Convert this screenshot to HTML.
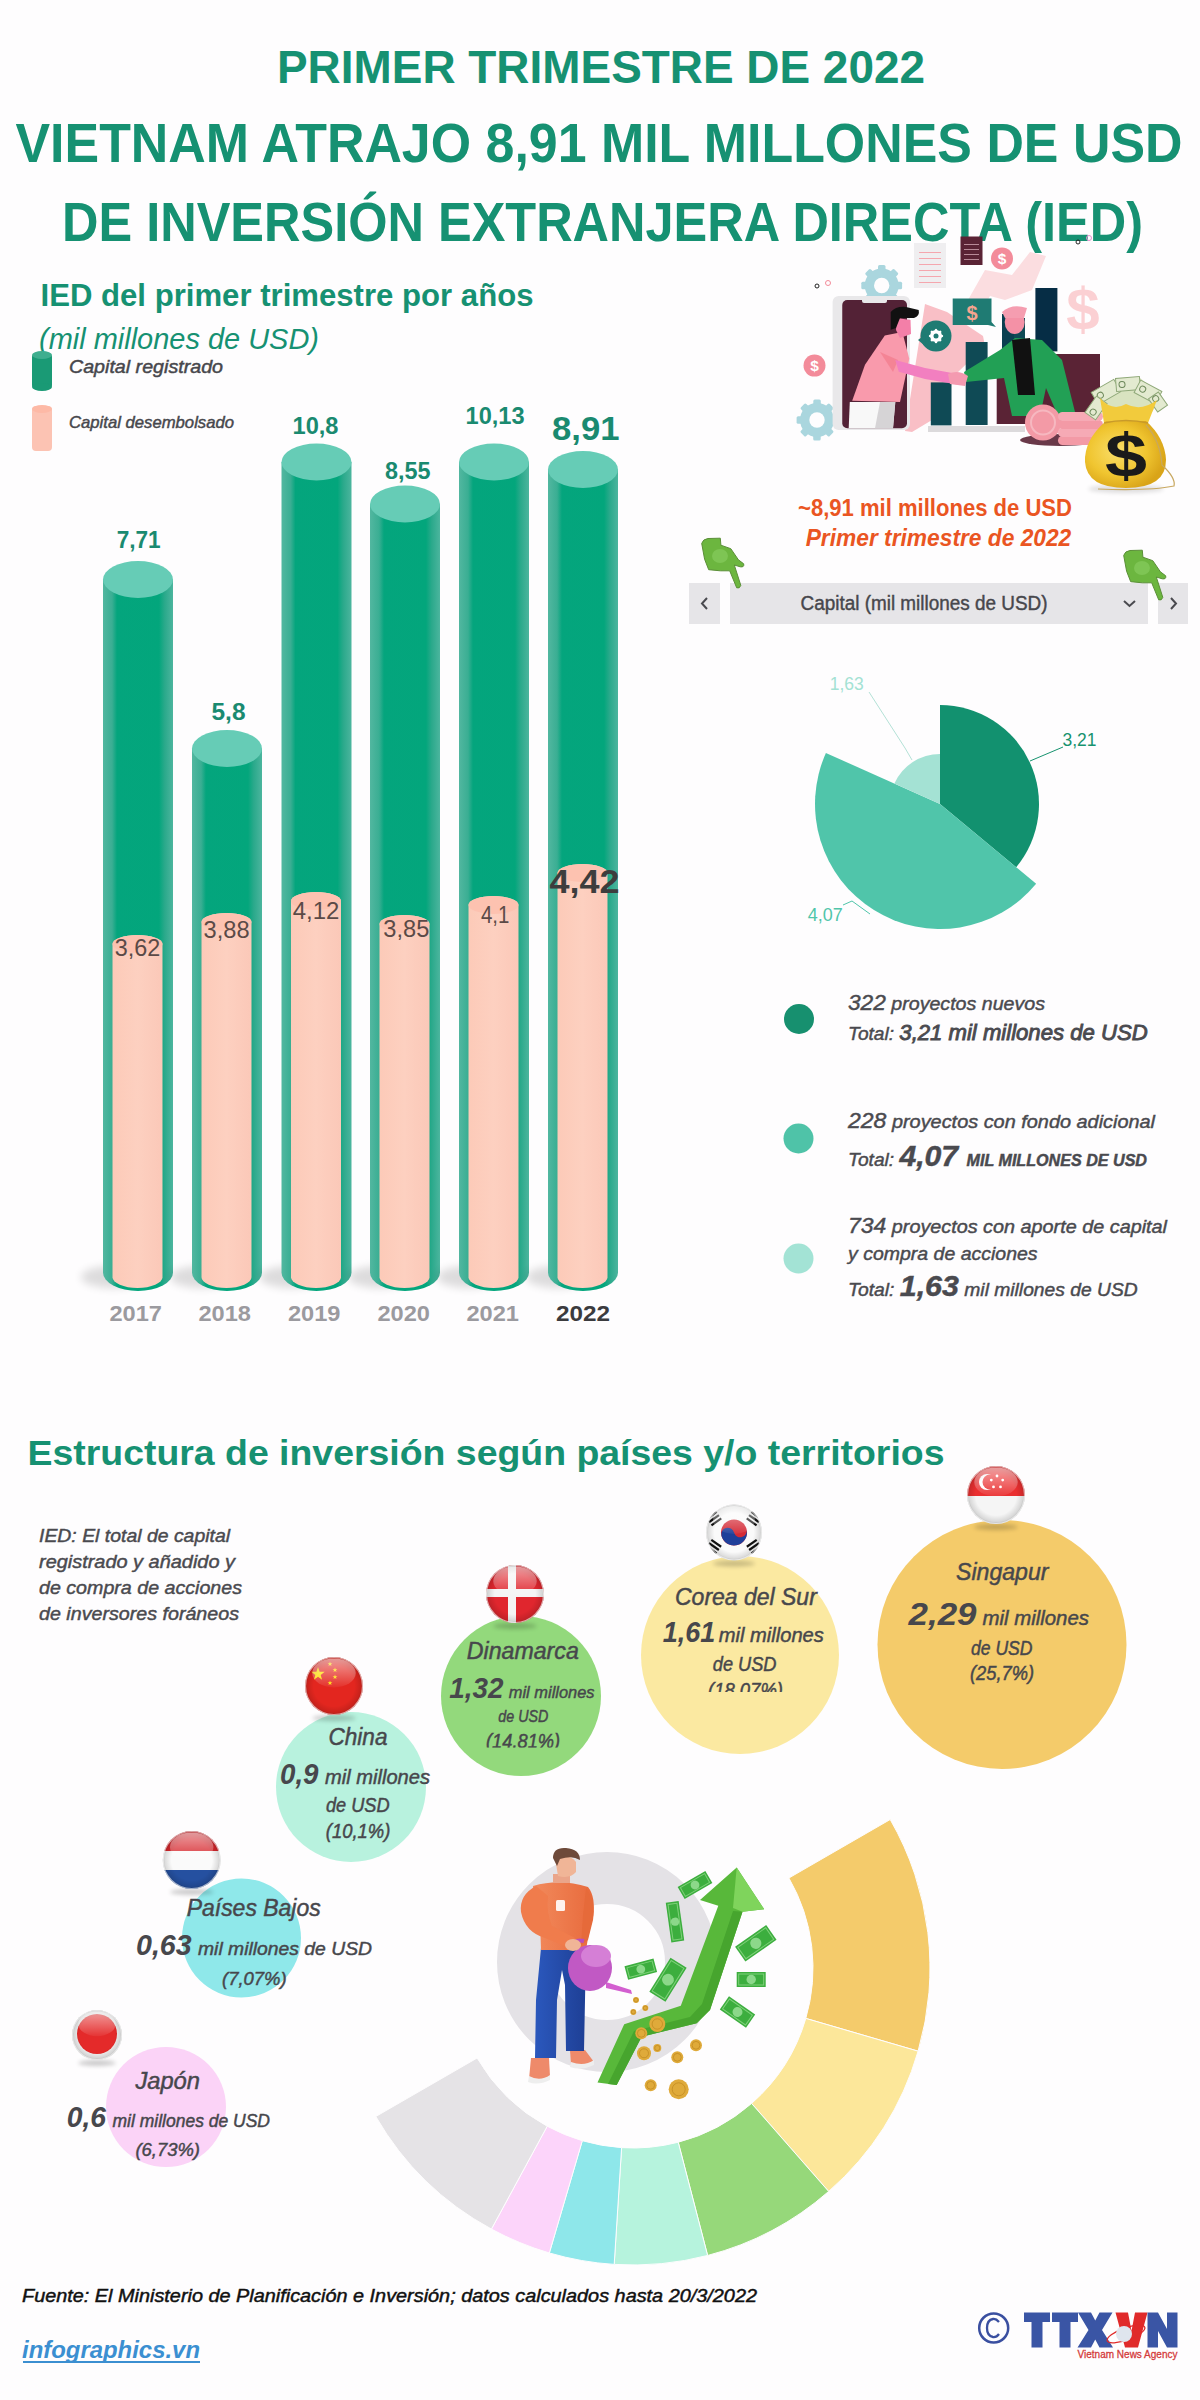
<!DOCTYPE html><html><head><meta charset="utf-8"><style>html,body{margin:0;padding:0;background:#fefdfe;width:1200px;height:2400px;overflow:hidden}svg{display:block;font-family:"Liberation Sans",sans-serif}</style></head><body>
<svg width="1200" height="2400" viewBox="0 0 1200 2400">
<defs>
<linearGradient id="gbody" x1="0" x2="1" y1="0" y2="0">
<stop offset="0" stop-color="#52b7a0"/><stop offset="0.13" stop-color="#3aae93"/><stop offset="0.2" stop-color="#04a57d"/><stop offset="0.8" stop-color="#03a67c"/><stop offset="0.88" stop-color="#2aa98b"/><stop offset="1" stop-color="#4cb59e"/>
</linearGradient>
<linearGradient id="pbody" x1="0" x2="1" y1="0" y2="0">
<stop offset="0" stop-color="#fccab8"/><stop offset="0.5" stop-color="#fdd0c0"/><stop offset="1" stop-color="#fbc8b8"/>
</linearGradient>
<filter id="blur4" x="-100%" y="-200%" width="300%" height="500%"><feGaussianBlur stdDeviation="4"/></filter>
<filter id="blur2" x="-50%" y="-200%" width="200%" height="500%"><feGaussianBlur stdDeviation="2"/></filter>
</defs>
<text x="277.0" y="82.5" font-size="47" fill="#169172" font-weight="bold" font-style="normal" text-anchor="start" textLength="648.0" lengthAdjust="spacingAndGlyphs" >PRIMER TRIMESTRE DE 2022</text>
<text x="15.5" y="162.0" font-size="55" fill="#169172" font-weight="bold" font-style="normal" text-anchor="start" textLength="1167.0" lengthAdjust="spacingAndGlyphs" >VIETNAM ATRAJO 8,91 MIL MILLONES DE USD</text>
<text x="62.0" y="240.5" font-size="55" fill="#169172" font-weight="bold" font-style="normal" text-anchor="start" textLength="1081.0" lengthAdjust="spacingAndGlyphs" >DE INVERSIÓN EXTRANJERA DIRECTA (IED)</text>
<text x="40.5" y="306.0" font-size="31" fill="#169172" font-weight="bold" font-style="normal" text-anchor="start" textLength="493.0" lengthAdjust="spacingAndGlyphs" >IED del primer trimestre por años</text>
<text x="39.0" y="349.0" font-size="29" fill="#169172" font-weight="normal" font-style="italic" text-anchor="start" textLength="280.0" lengthAdjust="spacingAndGlyphs" >(mil millones de USD)</text>
<rect x="32" y="354" width="20" height="34" rx="3" fill="#1a9a75"/><ellipse cx="42" cy="355" rx="10" ry="4" fill="#3fae8f"/><ellipse cx="42" cy="387" rx="10" ry="4" fill="#1a9a75"/>
<rect x="32" y="406" width="20" height="45" rx="4" fill="#fcc3b3"/><ellipse cx="42" cy="409" rx="10" ry="4" fill="#fdb9a6"/>
<text x="69.0" y="373.0" font-size="18" fill="#47474c" font-weight="normal" font-style="italic" text-anchor="start" textLength="154.0" lengthAdjust="spacingAndGlyphs"  stroke="#47474c" stroke-width="0.45">Capital registrado</text>
<text x="69.0" y="428.0" font-size="16.5" fill="#47474c" font-weight="normal" font-style="italic" text-anchor="start" textLength="165.0" lengthAdjust="spacingAndGlyphs"  stroke="#47474c" stroke-width="0.45">Capital desembolsado</text>
<ellipse cx="113" cy="1277" rx="32" ry="11" fill="#000" opacity="0.13" filter="url(#blur4)"/>
<path d="M103,579.5 L103,1272.5 A35.0,18.5 0 0 0 173,1272.5 L173,579.5 Z" fill="url(#gbody)"/>
<ellipse cx="138.0" cy="579.5" rx="35.0" ry="18.5" fill="#66ccb6"/>
<path d="M112.5,944 L112.5,1277.2 A25.0,10.799999999999999 0 0 0 162.5,1277.2 L162.5,944 A25.0,9 0 0 0 112.5,944 Z" fill="url(#pbody)"/>
<ellipse cx="137.5" cy="944" rx="25.0" ry="9" fill="#fdc2b0"/>
<ellipse cx="202" cy="1277" rx="32" ry="11" fill="#000" opacity="0.13" filter="url(#blur4)"/>
<path d="M192,748.5 L192,1272.5 A35.0,18.5 0 0 0 262,1272.5 L262,748.5 Z" fill="url(#gbody)"/>
<ellipse cx="227.0" cy="748.5" rx="35.0" ry="18.5" fill="#66ccb6"/>
<path d="M201.5,922 L201.5,1277.2 A25.0,10.799999999999999 0 0 0 251.5,1277.2 L251.5,922 A25.0,9 0 0 0 201.5,922 Z" fill="url(#pbody)"/>
<ellipse cx="226.5" cy="922" rx="25.0" ry="9" fill="#fdc2b0"/>
<ellipse cx="291.5" cy="1277" rx="32" ry="11" fill="#000" opacity="0.13" filter="url(#blur4)"/>
<path d="M281.5,462.0 L281.5,1272.5 A35.0,18.5 0 0 0 351.5,1272.5 L351.5,462.0 Z" fill="url(#gbody)"/>
<ellipse cx="316.5" cy="462.0" rx="35.0" ry="18.5" fill="#66ccb6"/>
<path d="M291.0,901 L291.0,1277.2 A25.0,10.799999999999999 0 0 0 341.0,1277.2 L341.0,901 A25.0,9 0 0 0 291.0,901 Z" fill="url(#pbody)"/>
<ellipse cx="316.0" cy="901" rx="25.0" ry="9" fill="#fdc2b0"/>
<ellipse cx="380" cy="1277" rx="32" ry="11" fill="#000" opacity="0.13" filter="url(#blur4)"/>
<path d="M370,504.0 L370,1272.5 A35.0,18.5 0 0 0 440,1272.5 L440,504.0 Z" fill="url(#gbody)"/>
<ellipse cx="405.0" cy="504.0" rx="35.0" ry="18.5" fill="#66ccb6"/>
<path d="M379.5,924 L379.5,1277.2 A25.0,10.799999999999999 0 0 0 429.5,1277.2 L429.5,924 A25.0,9 0 0 0 379.5,924 Z" fill="url(#pbody)"/>
<ellipse cx="404.5" cy="924" rx="25.0" ry="9" fill="#fdc2b0"/>
<ellipse cx="469" cy="1277" rx="32" ry="11" fill="#000" opacity="0.13" filter="url(#blur4)"/>
<path d="M459,462.0 L459,1272.5 A35.0,18.5 0 0 0 529,1272.5 L529,462.0 Z" fill="url(#gbody)"/>
<ellipse cx="494.0" cy="462.0" rx="35.0" ry="18.5" fill="#66ccb6"/>
<path d="M468.5,905 L468.5,1277.2 A25.0,10.799999999999999 0 0 0 518.5,1277.2 L518.5,905 A25.0,9 0 0 0 468.5,905 Z" fill="url(#pbody)"/>
<ellipse cx="493.5" cy="905" rx="25.0" ry="9" fill="#fdc2b0"/>
<ellipse cx="558" cy="1277" rx="32" ry="11" fill="#000" opacity="0.13" filter="url(#blur4)"/>
<path d="M548,469.5 L548,1272.5 A35.0,18.5 0 0 0 618,1272.5 L618,469.5 Z" fill="url(#gbody)"/>
<ellipse cx="583.0" cy="469.5" rx="35.0" ry="18.5" fill="#66ccb6"/>
<path d="M557.5,873 L557.5,1277.2 A25.0,10.799999999999999 0 0 0 607.5,1277.2 L607.5,873 A25.0,9 0 0 0 557.5,873 Z" fill="url(#pbody)"/>
<ellipse cx="582.5" cy="873" rx="25.0" ry="9" fill="#fdc2b0"/>
<text x="116.7" y="547.5" font-size="23" fill="#1a8a70" font-weight="bold" font-style="normal" text-anchor="start" textLength="44.0" lengthAdjust="spacingAndGlyphs" >7,71</text>
<text x="211.5" y="720.0" font-size="23" fill="#1a8a70" font-weight="bold" font-style="normal" text-anchor="start" textLength="34.0" lengthAdjust="spacingAndGlyphs" >5,8</text>
<text x="292.5" y="433.5" font-size="23" fill="#1a8a70" font-weight="bold" font-style="normal" text-anchor="start" textLength="46.0" lengthAdjust="spacingAndGlyphs" >10,8</text>
<text x="385.0" y="479.0" font-size="23" fill="#1a8a70" font-weight="bold" font-style="normal" text-anchor="start" textLength="45.5" lengthAdjust="spacingAndGlyphs" >8,55</text>
<text x="465.6" y="423.6" font-size="23" fill="#1a8a70" font-weight="bold" font-style="normal" text-anchor="start" textLength="59.0" lengthAdjust="spacingAndGlyphs" >10,13</text>
<text x="552.0" y="440.4" font-size="34" fill="#1a8a70" font-weight="bold" font-style="normal" text-anchor="start" textLength="67.5" lengthAdjust="spacingAndGlyphs" >8,91</text>
<text x="114.7" y="956.4" font-size="23" fill="#5b4a47" font-weight="normal" font-style="normal" text-anchor="start" textLength="45.5" lengthAdjust="spacingAndGlyphs" >3,62</text>
<text x="203.6" y="937.6" font-size="23" fill="#5b4a47" font-weight="normal" font-style="normal" text-anchor="start" textLength="46.0" lengthAdjust="spacingAndGlyphs" >3,88</text>
<text x="292.8" y="918.5" font-size="23" fill="#5b4a47" font-weight="normal" font-style="normal" text-anchor="start" textLength="46.6" lengthAdjust="spacingAndGlyphs" >4,12</text>
<text x="383.3" y="936.8" font-size="23" fill="#5b4a47" font-weight="normal" font-style="normal" text-anchor="start" textLength="46.0" lengthAdjust="spacingAndGlyphs" >3,85</text>
<text x="480.9" y="922.8" font-size="23" fill="#5b4a47" font-weight="normal" font-style="normal" text-anchor="start" textLength="28.4" lengthAdjust="spacingAndGlyphs" >4,1</text>
<text x="549.5" y="893.2" font-size="34" fill="#3d3d3d" font-weight="bold" font-style="normal" text-anchor="start" textLength="70.0" lengthAdjust="spacingAndGlyphs" >4,42</text>
<text x="109.5" y="1320.5" font-size="22" fill="#9b9a9f" font-weight="bold" font-style="normal" text-anchor="start" textLength="52.5" lengthAdjust="spacingAndGlyphs" >2017</text>
<text x="198.5" y="1320.5" font-size="22" fill="#9b9a9f" font-weight="bold" font-style="normal" text-anchor="start" textLength="52.5" lengthAdjust="spacingAndGlyphs" >2018</text>
<text x="288.0" y="1320.5" font-size="22" fill="#9b9a9f" font-weight="bold" font-style="normal" text-anchor="start" textLength="52.5" lengthAdjust="spacingAndGlyphs" >2019</text>
<text x="377.5" y="1320.5" font-size="22" fill="#9b9a9f" font-weight="bold" font-style="normal" text-anchor="start" textLength="52.5" lengthAdjust="spacingAndGlyphs" >2020</text>
<text x="466.5" y="1320.5" font-size="22" fill="#9b9a9f" font-weight="bold" font-style="normal" text-anchor="start" textLength="52.5" lengthAdjust="spacingAndGlyphs" >2021</text>
<text x="556.0" y="1320.5" font-size="22" fill="#3b3b3e" font-weight="bold" font-style="normal" text-anchor="start" textLength="54.0" lengthAdjust="spacingAndGlyphs" >2022</text>
<text x="798.0" y="516.0" font-size="24" fill="#ea5522" font-weight="bold" font-style="normal" text-anchor="start" textLength="274.0" lengthAdjust="spacingAndGlyphs" >~8,91 mil millones de USD</text>
<text x="805.7" y="545.5" font-size="24" fill="#ea5522" font-weight="bold" font-style="italic" text-anchor="start" textLength="265.6" lengthAdjust="spacingAndGlyphs" >Primer trimestre de 2022</text>
<rect x="689" y="583" width="31" height="41" fill="#e6e5e8"/>
<rect x="730" y="583" width="418" height="41" fill="#e6e5e8"/>
<rect x="1158" y="583" width="30" height="41" fill="#e6e5e8"/>
<path d="M707,598 L702,603.5 L707,609" fill="none" stroke="#4a4a4f" stroke-width="2"/>
<path d="M1171,598 L1176,603.5 L1171,609" fill="none" stroke="#4a4a4f" stroke-width="2"/>
<path d="M1124,601 L1129.5,606 L1135,601" fill="none" stroke="#4a4a4f" stroke-width="2"/>
<text x="800.5" y="610.0" font-size="19.5" fill="#47474c" font-weight="normal" font-style="normal" text-anchor="start" textLength="247.0" lengthAdjust="spacingAndGlyphs"  stroke="#47474c" stroke-width="0.4">Capital (mil millones de USD)</text>
<path d="M940,804 L940.00,705.00 A99,99 0 0 1 1016.17,867.24 Z" fill="#12916f" />
<path d="M940,804 L1036.17,883.85 A125,125 0 0 1 825.90,752.96 Z" fill="#50c5aa" />
<path d="M940,804 L894.36,783.58 A50,50 0 0 1 940.00,754.00 Z" fill="#a4e2d4" />
<path d="M869,692 L905,748 L912,760" fill="none" stroke="#9fd9cc" stroke-width="0.8"/>
<path d="M1030,761 L1063,747" fill="none" stroke="#17936f" stroke-width="1"/>
<path d="M843,905 L852,901 L870,914" fill="none" stroke="#50c5aa" stroke-width="1"/>
<text x="829.7" y="689.6" font-size="17.5" fill="#a4e2d4" font-weight="normal" font-style="normal" text-anchor="start" textLength="34.0" lengthAdjust="spacingAndGlyphs" >1,63</text>
<text x="1062.5" y="746.0" font-size="17.5" fill="#17936f" font-weight="normal" font-style="normal" text-anchor="start" textLength="34.0" lengthAdjust="spacingAndGlyphs" >3,21</text>
<text x="807.7" y="920.6" font-size="17.5" fill="#50c5aa" font-weight="normal" font-style="normal" text-anchor="start" textLength="35.0" lengthAdjust="spacingAndGlyphs" >4,07</text>
<circle cx="799" cy="1019" r="15" fill="#17906f"/>
<circle cx="798.5" cy="1138.5" r="15" fill="#4fc3a8"/>
<circle cx="798.5" cy="1258.5" r="15" fill="#a3e3d5"/>
<text x="848" y="1010.3" font-style="italic" fill="#4a4a4f" stroke="#4a4a4f" stroke-width="0.45" textLength="197" lengthAdjust="spacingAndGlyphs"><tspan font-size="22">322</tspan><tspan font-size="19"> proyectos nuevos</tspan></text>
<text x="848" y="1040.4" font-style="italic" fill="#4a4a4f" stroke="#4a4a4f" stroke-width="0.45" textLength="299.6" lengthAdjust="spacingAndGlyphs"><tspan font-size="19">Total: </tspan><tspan font-size="22" stroke-width="0.9">3,21 mil millones de USD</tspan></text>
<text x="848" y="1127.7" font-style="italic" fill="#4a4a4f" stroke="#4a4a4f" stroke-width="0.45" textLength="307" lengthAdjust="spacingAndGlyphs"><tspan font-size="22">228</tspan><tspan font-size="19"> proyectos con fondo adicional</tspan></text>
<text x="848" y="1166.2" font-style="italic" fill="#4a4a4f" stroke="#4a4a4f" stroke-width="0.45" textLength="299" lengthAdjust="spacingAndGlyphs"><tspan font-size="19">Total: </tspan><tspan font-size="30" font-weight="bold">4,07 </tspan><tspan font-size="16" font-weight="bold">MIL MILLONES DE USD</tspan></text>
<text x="848" y="1233.3" font-style="italic" fill="#4a4a4f" stroke="#4a4a4f" stroke-width="0.45" textLength="319" lengthAdjust="spacingAndGlyphs"><tspan font-size="22">734</tspan><tspan font-size="19"> proyectos con aporte de capital</tspan></text>
<text x="848.0" y="1259.7" font-size="19" fill="#4a4a4f" font-weight="normal" font-style="italic" text-anchor="start" textLength="189.6" lengthAdjust="spacingAndGlyphs"  stroke="#4a4a4f" stroke-width="0.45">y compra de acciones</text>
<text x="848" y="1295.6" font-style="italic" fill="#4a4a4f" stroke="#4a4a4f" stroke-width="0.45" textLength="289.7" lengthAdjust="spacingAndGlyphs"><tspan font-size="19">Total: </tspan><tspan font-size="30" font-weight="bold">1,63</tspan><tspan font-size="19"> mil millones de USD</tspan></text>
<text x="27.5" y="1465.0" font-size="35" fill="#169172" font-weight="bold" font-style="normal" text-anchor="start" textLength="917.0" lengthAdjust="spacingAndGlyphs" >Estructura de inversión según países y/o territorios</text>
<text x="39.0" y="1541.5" font-size="19" fill="#4a4a4f" font-weight="normal" font-style="italic" text-anchor="start" textLength="191.0" lengthAdjust="spacingAndGlyphs"  stroke="#4a4a4f" stroke-width="0.45">IED: El total de capital</text>
<text x="39.0" y="1567.5" font-size="19" fill="#4a4a4f" font-weight="normal" font-style="italic" text-anchor="start" textLength="196.0" lengthAdjust="spacingAndGlyphs"  stroke="#4a4a4f" stroke-width="0.45">registrado y añadido y</text>
<text x="39.0" y="1594.0" font-size="19" fill="#4a4a4f" font-weight="normal" font-style="italic" text-anchor="start" textLength="203.0" lengthAdjust="spacingAndGlyphs"  stroke="#4a4a4f" stroke-width="0.45">de compra de acciones</text>
<text x="39.0" y="1620.0" font-size="19" fill="#4a4a4f" font-weight="normal" font-style="italic" text-anchor="start" textLength="200.0" lengthAdjust="spacingAndGlyphs"  stroke="#4a4a4f" stroke-width="0.45">de inversores foráneos</text>
<path d="M890.21,1819.50 A297,297 0 0 1 918.12,2051.16 L805.80,2018.40 A180,180 0 0 0 788.88,1878.00 Z" fill="#f4cb6b" stroke="#fefdfe" stroke-width="1"/>
<path d="M918.12,2051.16 A297,297 0 0 1 828.67,2191.43 L751.59,2103.41 A180,180 0 0 0 805.80,2018.40 Z" fill="#fce79a" stroke="#fefdfe" stroke-width="1"/>
<path d="M828.67,2191.43 A297,297 0 0 1 707.61,2255.47 L678.22,2142.23 A180,180 0 0 0 751.59,2103.41 Z" fill="#96d87a" stroke="#fefdfe" stroke-width="1"/>
<path d="M707.61,2255.47 A297,297 0 0 1 614.20,2264.40 L621.60,2147.64 A180,180 0 0 0 678.22,2142.23 Z" fill="#b6f3dd" stroke="#fefdfe" stroke-width="1"/>
<path d="M614.20,2264.40 A297,297 0 0 1 549.34,2252.97 L582.30,2140.71 A180,180 0 0 0 621.60,2147.64 Z" fill="#8ee7ea" stroke="#fefdfe" stroke-width="1"/>
<path d="M549.34,2252.97 A297,297 0 0 1 491.42,2229.08 L547.19,2126.23 A180,180 0 0 0 582.30,2140.71 Z" fill="#fcd4fa" stroke="#fefdfe" stroke-width="1"/>
<path d="M491.42,2229.08 A297,297 0 0 1 375.79,2116.50 L477.12,2058.00 A180,180 0 0 0 547.19,2126.23 Z" fill="#e5e3e6" stroke="#fefdfe" stroke-width="1"/>
<circle cx="607" cy="1962" r="84" fill="none" stroke="#e4e2e6" stroke-width="52"/>
<circle cx="521" cy="1696" r="80" fill="#93d97c"/>
<circle cx="351" cy="1787" r="75" fill="#b8f2de"/>
<circle cx="241.5" cy="1938" r="59.5" fill="#8fe8ea"/>
<circle cx="166" cy="2107" r="60" fill="#fbd3f7"/>
<circle cx="740" cy="1655" r="99" fill="#fbe9a1"/>
<circle cx="1002" cy="1644.5" r="124.5" fill="#f4cb6a"/>
<clipPath id="clipDK"><rect x="430" y="1540" width="200" height="207.5"/></clipPath>
<clipPath id="clipKR"><rect x="620" y="1540" width="240" height="152"/></clipPath>
<text x="466.8" y="1659.0" font-size="23" fill="#47474c" font-weight="normal" font-style="italic" text-anchor="start" textLength="112.0" lengthAdjust="spacingAndGlyphs"  stroke="#47474c" stroke-width="0.45">Dinamarca</text>
<text x="449.3" y="1697.5" font-size="29" fill="#47474c" font-weight="bold" font-style="italic" text-anchor="start" textLength="54.2" lengthAdjust="spacingAndGlyphs" >1,32</text>
<text x="508.8" y="1697.5" font-size="17" fill="#47474c" font-weight="normal" font-style="italic" text-anchor="start" textLength="85.7" lengthAdjust="spacingAndGlyphs"  stroke="#47474c" stroke-width="0.45">mil millones</text>
<text x="498.3" y="1722.0" font-size="17" fill="#47474c" font-weight="normal" font-style="italic" text-anchor="start" textLength="50.0" lengthAdjust="spacingAndGlyphs"  stroke="#47474c" stroke-width="0.45">de USD</text>
<text x="486.0" y="1747.5" font-size="19.5" fill="#47474c" font-weight="normal" font-style="italic" text-anchor="start" textLength="74.2" lengthAdjust="spacingAndGlyphs" clip-path="url(#clipDK)" stroke="#47474c" stroke-width="0.45">(14.81%)</text>
<text x="328.5" y="1745.0" font-size="23" fill="#47474c" font-weight="normal" font-style="italic" text-anchor="start" textLength="59.0" lengthAdjust="spacingAndGlyphs"  stroke="#47474c" stroke-width="0.45">China</text>
<text x="280.0" y="1784.0" font-size="29" fill="#47474c" font-weight="bold" font-style="italic" text-anchor="start" textLength="38.5" lengthAdjust="spacingAndGlyphs" >0,9</text>
<text x="325.0" y="1784.0" font-size="19.5" fill="#47474c" font-weight="normal" font-style="italic" text-anchor="start" textLength="105.0" lengthAdjust="spacingAndGlyphs"  stroke="#47474c" stroke-width="0.45">mil millones</text>
<text x="326.0" y="1812.0" font-size="19.5" fill="#47474c" font-weight="normal" font-style="italic" text-anchor="start" textLength="63.6" lengthAdjust="spacingAndGlyphs"  stroke="#47474c" stroke-width="0.45">de USD</text>
<text x="325.8" y="1838.0" font-size="19.5" fill="#47474c" font-weight="normal" font-style="italic" text-anchor="start" textLength="64.6" lengthAdjust="spacingAndGlyphs"  stroke="#47474c" stroke-width="0.45">(10,1%)</text>
<text x="186.7" y="1916.0" font-size="23" fill="#47474c" font-weight="normal" font-style="italic" text-anchor="start" textLength="134.0" lengthAdjust="spacingAndGlyphs"  stroke="#47474c" stroke-width="0.45">Países Bajos</text>
<text x="136.0" y="1955.0" font-size="29" fill="#47474c" font-weight="bold" font-style="italic" text-anchor="start" textLength="55.7" lengthAdjust="spacingAndGlyphs" >0,63</text>
<text x="198.0" y="1955.0" font-size="19" fill="#47474c" font-weight="normal" font-style="italic" text-anchor="start" textLength="174.0" lengthAdjust="spacingAndGlyphs"  stroke="#47474c" stroke-width="0.45">mil millones de USD</text>
<text x="222.0" y="1985.0" font-size="19" fill="#47474c" font-weight="normal" font-style="italic" text-anchor="start" textLength="64.7" lengthAdjust="spacingAndGlyphs"  stroke="#47474c" stroke-width="0.45">(7,07%)</text>
<text x="135.4" y="2089.0" font-size="23" fill="#47474c" font-weight="normal" font-style="italic" text-anchor="start" textLength="64.6" lengthAdjust="spacingAndGlyphs"  stroke="#47474c" stroke-width="0.45">Japón</text>
<text x="66.7" y="2126.7" font-size="29" fill="#47474c" font-weight="bold" font-style="italic" text-anchor="start" textLength="39.3" lengthAdjust="spacingAndGlyphs" >0,6</text>
<text x="112.5" y="2126.5" font-size="17.5" fill="#47474c" font-weight="normal" font-style="italic" text-anchor="start" textLength="157.5" lengthAdjust="spacingAndGlyphs"  stroke="#47474c" stroke-width="0.45">mil millones de USD</text>
<text x="135.4" y="2155.8" font-size="19" fill="#47474c" font-weight="normal" font-style="italic" text-anchor="start" textLength="64.6" lengthAdjust="spacingAndGlyphs"  stroke="#47474c" stroke-width="0.45">(6,73%)</text>
<text x="675.0" y="1604.8" font-size="23" fill="#47474c" font-weight="normal" font-style="italic" text-anchor="start" textLength="141.8" lengthAdjust="spacingAndGlyphs"  stroke="#47474c" stroke-width="0.45">Corea del Sur</text>
<text x="662.8" y="1642.2" font-size="29" fill="#47474c" font-weight="bold" font-style="italic" text-anchor="start" textLength="52.5" lengthAdjust="spacingAndGlyphs" >1,61</text>
<text x="718.8" y="1642.2" font-size="19.5" fill="#47474c" font-weight="normal" font-style="italic" text-anchor="start" textLength="105.0" lengthAdjust="spacingAndGlyphs"  stroke="#47474c" stroke-width="0.45">mil millones</text>
<text x="712.8" y="1671.0" font-size="19.5" fill="#47474c" font-weight="normal" font-style="italic" text-anchor="start" textLength="63.7" lengthAdjust="spacingAndGlyphs"  stroke="#47474c" stroke-width="0.45">de USD</text>
<text x="708.0" y="1697.0" font-size="19.5" fill="#47474c" font-weight="normal" font-style="italic" text-anchor="start" textLength="75.0" lengthAdjust="spacingAndGlyphs" clip-path="url(#clipKR)" stroke="#47474c" stroke-width="0.45">(18,07%)</text>
<text x="956.0" y="1580.0" font-size="23" fill="#47474c" font-weight="normal" font-style="italic" text-anchor="start" textLength="92.5" lengthAdjust="spacingAndGlyphs"  stroke="#47474c" stroke-width="0.45">Singapur</text>
<text x="908.5" y="1625.0" font-size="32" fill="#47474c" font-weight="bold" font-style="italic" text-anchor="start" textLength="68.0" lengthAdjust="spacingAndGlyphs" >2,29</text>
<text x="982.5" y="1625.0" font-size="19.5" fill="#47474c" font-weight="normal" font-style="italic" text-anchor="start" textLength="106.5" lengthAdjust="spacingAndGlyphs"  stroke="#47474c" stroke-width="0.45">mil millones</text>
<text x="971.0" y="1655.0" font-size="19.5" fill="#47474c" font-weight="normal" font-style="italic" text-anchor="start" textLength="61.5" lengthAdjust="spacingAndGlyphs"  stroke="#47474c" stroke-width="0.45">de USD</text>
<text x="970.0" y="1680.0" font-size="19.5" fill="#47474c" font-weight="normal" font-style="italic" text-anchor="start" textLength="64.0" lengthAdjust="spacingAndGlyphs"  stroke="#47474c" stroke-width="0.45">(25,7%)</text>
<text x="22.0" y="2302.0" font-size="18" fill="#111" font-weight="normal" font-style="italic" text-anchor="start" textLength="735.0" lengthAdjust="spacingAndGlyphs"  stroke="#111" stroke-width="0.45">Fuente: El Ministerio de Planificación e Inversión; datos calculados hasta 20/3/2022</text>
<text x="22.0" y="2358.0" font-size="24" fill="#3b8fd1" font-weight="bold" font-style="italic" text-anchor="start" textLength="178.0" lengthAdjust="spacingAndGlyphs" >infographics.vn</text>
<rect x="23" y="2361" width="177" height="2" fill="#3b8fd1"/>
<defs>
<radialGradient id="gl" cx="0.5" cy="0.5" r="0.5">
<stop offset="0.7" stop-color="#000" stop-opacity="0"/><stop offset="0.92" stop-color="#000" stop-opacity="0.12"/><stop offset="1" stop-color="#000" stop-opacity="0.25"/>
</radialGradient>
<linearGradient id="hl" x1="0" x2="0" y1="0" y2="1">
<stop offset="0" stop-color="#fff" stop-opacity="0.55"/><stop offset="1" stop-color="#fff" stop-opacity="0.05"/>
</linearGradient>
</defs>
<ellipse cx="515" cy="1626" rx="21.75" ry="3" fill="#000" opacity="0.2" filter="url(#blur2)"/>
<clipPath id="fcdk"><circle cx="515" cy="1594" r="29"/></clipPath>
<g clip-path="url(#fcdk)"><rect x="486" y="1565" width="58" height="58" fill="#e0262e"/><rect x="486" y="1589" width="58" height="8" fill="#f4f4f4"/><rect x="508" y="1565" width="8" height="58" fill="#f4f4f4"/></g>
<circle cx="515" cy="1594" r="29" fill="url(#gl)"/>
<ellipse cx="515" cy="1580.95" rx="21.75" ry="14.5" fill="url(#hl)"/>
<circle cx="515" cy="1594" r="28.5" fill="none" stroke="#fff" stroke-opacity="0.6" stroke-width="1.2"/>
<ellipse cx="334" cy="1718" rx="21.75" ry="3" fill="#000" opacity="0.2" filter="url(#blur2)"/>
<clipPath id="fccn"><circle cx="334" cy="1686" r="29"/></clipPath>
<g clip-path="url(#fccn)"><rect x="305" y="1657" width="58" height="58" fill="#e3261f"/><polygon points="318.0,1667.0 319.6,1671.7 324.7,1671.8 320.7,1674.9 322.1,1679.7 318.0,1676.8 313.9,1679.7 315.3,1674.9 311.3,1671.8 316.4,1671.7" fill="#ffde00"/><polygon points="330.0,1661.5 330.6,1663.2 332.4,1663.2 331.0,1664.3 331.5,1666.0 330.0,1665.0 328.5,1666.0 329.0,1664.3 327.6,1663.2 329.4,1663.2" fill="#ffde00"/><polygon points="335.0,1667.5 335.6,1669.2 337.4,1669.2 336.0,1670.3 336.5,1672.0 335.0,1671.0 333.5,1672.0 334.0,1670.3 332.6,1669.2 334.4,1669.2" fill="#ffde00"/><polygon points="335.0,1674.5 335.6,1676.2 337.4,1676.2 336.0,1677.3 336.5,1679.0 335.0,1678.0 333.5,1679.0 334.0,1677.3 332.6,1676.2 334.4,1676.2" fill="#ffde00"/><polygon points="330.0,1680.5 330.6,1682.2 332.4,1682.2 331.0,1683.3 331.5,1685.0 330.0,1684.0 328.5,1685.0 329.0,1683.3 327.6,1682.2 329.4,1682.2" fill="#ffde00"/></g>
<circle cx="334" cy="1686" r="29" fill="url(#gl)"/>
<ellipse cx="334" cy="1672.95" rx="21.75" ry="14.5" fill="url(#hl)"/>
<circle cx="334" cy="1686" r="28.5" fill="none" stroke="#fff" stroke-opacity="0.6" stroke-width="1.2"/>
<ellipse cx="191.7" cy="1892" rx="21.75" ry="3" fill="#000" opacity="0.2" filter="url(#blur2)"/>
<clipPath id="fcnl"><circle cx="191.7" cy="1860" r="29"/></clipPath>
<g clip-path="url(#fcnl)"><rect x="162.7" y="1831" width="58" height="20" fill="#d6262c"/><rect x="162.7" y="1851" width="58" height="19" fill="#fafafa"/><rect x="162.7" y="1870" width="58" height="20" fill="#2550a0"/></g>
<circle cx="191.7" cy="1860" r="29" fill="url(#gl)"/>
<ellipse cx="191.7" cy="1846.95" rx="21.75" ry="14.5" fill="url(#hl)"/>
<circle cx="191.7" cy="1860" r="28.5" fill="none" stroke="#fff" stroke-opacity="0.6" stroke-width="1.2"/>
<ellipse cx="97" cy="2063" rx="18.75" ry="3" fill="#000" opacity="0.2" filter="url(#blur2)"/>
<clipPath id="fcjp"><circle cx="97" cy="2035" r="25"/></clipPath>
<g clip-path="url(#fcjp)"><rect x="72" y="2010" width="50" height="50" fill="#f2f2f2"/><circle cx="97" cy="2034" r="20" fill="#e42a2a"/></g>
<circle cx="97" cy="2035" r="25" fill="url(#gl)"/>
<ellipse cx="97" cy="2023.75" rx="18.75" ry="12.5" fill="url(#hl)"/>
<circle cx="97" cy="2035" r="24.5" fill="none" stroke="#fff" stroke-opacity="0.6" stroke-width="1.2"/>
<ellipse cx="734" cy="1563.5" rx="21.0" ry="3" fill="#000" opacity="0.2" filter="url(#blur2)"/>
<clipPath id="fckr"><circle cx="734" cy="1532.5" r="28"/></clipPath>
<g clip-path="url(#fckr)"><rect x="706" y="1504.5" width="56" height="56" fill="#fafafa"/><circle cx="734" cy="1532.5" r="13" fill="#d42a36"/><path d="M721,1532.5 A13,13 0 0 1 747,1532.5 A6.5,6.5 0 0 1 734,1532.5 A6.5,6.5 0 0 0 721,1532.5 Z" fill="#1f3f9a" transform="rotate(165 734 1532.5)"/><g transform="rotate(-35 714 1518.5)"><rect x="708" y="1513.5" width="12" height="2.2" fill="#111"/><rect x="708" y="1517.5" width="12" height="2.2" fill="#111"/><rect x="708" y="1521.5" width="12" height="2.2" fill="#111"/></g><g transform="rotate(35 754 1518.5)"><rect x="748" y="1513.5" width="12" height="2.2" fill="#111"/><rect x="748" y="1517.5" width="12" height="2.2" fill="#111"/><rect x="748" y="1521.5" width="12" height="2.2" fill="#111"/></g><g transform="rotate(35 714 1546.5)"><rect x="708" y="1541.5" width="12" height="2.2" fill="#111"/><rect x="708" y="1545.5" width="12" height="2.2" fill="#111"/><rect x="708" y="1549.5" width="12" height="2.2" fill="#111"/></g><g transform="rotate(-35 754 1546.5)"><rect x="748" y="1541.5" width="12" height="2.2" fill="#111"/><rect x="748" y="1545.5" width="12" height="2.2" fill="#111"/><rect x="748" y="1549.5" width="12" height="2.2" fill="#111"/></g></g>
<circle cx="734" cy="1532.5" r="28" fill="url(#gl)"/>
<ellipse cx="734" cy="1519.9" rx="21.0" ry="14.0" fill="url(#hl)"/>
<circle cx="734" cy="1532.5" r="27.5" fill="none" stroke="#fff" stroke-opacity="0.6" stroke-width="1.2"/>
<ellipse cx="996" cy="1527" rx="21.75" ry="3" fill="#000" opacity="0.2" filter="url(#blur2)"/>
<clipPath id="fcsg"><circle cx="996" cy="1495" r="29"/></clipPath>
<g clip-path="url(#fcsg)"><rect x="967" y="1466" width="58" height="58" fill="#f5f5f5"/><rect x="967" y="1466" width="58" height="30" fill="#ea2f30"/><circle cx="987" cy="1482" r="8" fill="#fff"/><circle cx="990" cy="1482" r="7.5" fill="#ea2f30"/><circle cx="997.0" cy="1476.0" r="1.4" fill="#fff"/><circle cx="1002.7" cy="1480.1" r="1.4" fill="#fff"/><circle cx="1000.5" cy="1486.9" r="1.4" fill="#fff"/><circle cx="993.5" cy="1486.9" r="1.4" fill="#fff"/><circle cx="991.3" cy="1480.1" r="1.4" fill="#fff"/></g>
<circle cx="996" cy="1495" r="29" fill="url(#gl)"/>
<ellipse cx="996" cy="1481.95" rx="21.75" ry="14.5" fill="url(#hl)"/>
<circle cx="996" cy="1495" r="28.5" fill="none" stroke="#fff" stroke-opacity="0.6" stroke-width="1.2"/>
<defs>
<linearGradient id="shirt" x1="0" x2="1"><stop offset="0" stop-color="#f28a5c"/><stop offset="1" stop-color="#e86a3c"/></linearGradient>
<linearGradient id="pants" x1="0" x2="1"><stop offset="0" stop-color="#2b58bd"/><stop offset="1" stop-color="#1e3f95"/></linearGradient>
<linearGradient id="arrowg" x1="0" x2="1" y1="1" y2="0"><stop offset="0" stop-color="#3aa830"/><stop offset="1" stop-color="#5fcb4a"/></linearGradient>
</defs>
<path d="M531,2058 L549,2058 L550,2076 Q541,2082 529,2079 Z" fill="#ee8a6a"/><path d="M529,2076 Q540,2082 550,2075 L550,2080 Q538,2086 528,2082 Z" fill="#eeeeee"/>
<path d="M570,2050 L585,2050 L594,2062 Q583,2067 571,2064 Z" fill="#ee8a6a"/><path d="M571,2062 Q584,2067 594,2060 L594,2065 Q582,2071 570,2067 Z" fill="#eeeeee"/>
<path d="M541,1948 L586,1948 L585,2000 L584,2051 L566,2051 L565,1985 L562,1970 L557,2000 L556,2058 L535,2058 L536,2000 Z" fill="url(#pants)"/>
<path d="M533,1886 Q560,1878 588,1887 Q596,1897 593,1917 L588,1938 L586,1950 L541,1950 L540,1920 Q533,1900 533,1886 Z" fill="url(#shirt)"/>
<path d="M536,1886 Q519,1895 521,1912 Q525,1932 545,1938 L570,1948 L575,1938 L552,1926 Q546,1912 548,1896 Z" fill="#f07c4c"/>
<path d="M586,1888 Q596,1900 593,1920 L588,1940 L581,1945 L583,1915 Z" fill="#e66a3a"/>
<rect x="556" y="1900" width="9" height="11" rx="1.5" fill="#fff" opacity="0.9"/>
<rect x="553" y="1874" width="17" height="9" fill="#eaa58a"/>
<path d="M555,1858 Q570,1853 576,1862 L576,1872 Q570,1879 558,1876 Z" fill="#f0b597"/>
<path d="M553,1858 Q553,1847 566,1848 Q580,1849 580,1860 Q572,1855 560,1859 L557,1866 Z" fill="#6e4a3a"/>
<path d="M606,1982 L631,1990 L632,1994 L606,1988 Z" fill="#d35fd0"/>
<ellipse cx="590" cy="1968" rx="22" ry="23" fill="#c159c4"/><ellipse cx="596" cy="1956" rx="15" ry="11" fill="#d57fd6"/>
<path d="M572,1950 Q572,1938 584,1941" fill="none" stroke="#b94ebc" stroke-width="4"/>
<ellipse cx="573" cy="1945" rx="8" ry="6" fill="#f0b597"/>
<path d="M597.5,2082.5 L624.2,2024.2 L680.8,2005.8 L718.3,1905.8 L700,1900 L736.7,1867.5 L764.2,1909.2 L742.5,1911.7 L710,2010 L696.7,2023.3 L641.7,2036.7 L616.7,2085 Z" fill="#58b83a"/>
<path d="M742.5,1911.7 L710,2010 L696.7,2023.3 L641.7,2036.7 L616.7,2085 L608,2084 L634,2031 L690,2017 L702,2004 L733,1911 Z" fill="#47a52e"/>
<path d="M736.7,1867.5 L764.2,1909.2 L742.5,1911.7 L733,1908 Z" fill="#7fd45c"/>
<g transform="rotate(-30 695 1885)"><rect x="679.0" y="1878.0" width="32" height="14" fill="#3cae3e"/><rect x="681.0" y="1880.0" width="28" height="10" fill="none" stroke="#7fd07a" stroke-width="1"/><circle cx="695" cy="1885" r="4.4" fill="#8cd88a"/></g>
<g transform="rotate(-8 675 1921.7)"><rect x="668.5" y="1901.7" width="13" height="40" fill="#3cae3e"/><rect x="670.5" y="1903.7" width="9" height="36" fill="none" stroke="#7fd07a" stroke-width="1"/><circle cx="675" cy="1921.7" r="4.1" fill="#8cd88a"/></g>
<g transform="rotate(-15 640.8 1969.2)"><rect x="625.8" y="1962.2" width="30" height="14" fill="#3cae3e"/><rect x="627.8" y="1964.2" width="26" height="10" fill="none" stroke="#7fd07a" stroke-width="1"/><circle cx="640.8" cy="1969.2" r="4.4" fill="#8cd88a"/></g>
<g transform="rotate(-58 668 1979.7)"><rect x="648.0" y="1970.2" width="40" height="19" fill="#3cae3e"/><rect x="650.0" y="1972.2" width="36" height="15" fill="none" stroke="#7fd07a" stroke-width="1"/><circle cx="668" cy="1979.7" r="5.9" fill="#8cd88a"/></g>
<g transform="rotate(-35 755.8 1943.3)"><rect x="736.8" y="1934.3" width="38" height="18" fill="#3cae3e"/><rect x="738.8" y="1936.3" width="34" height="14" fill="none" stroke="#7fd07a" stroke-width="1"/><circle cx="755.8" cy="1943.3" r="5.6" fill="#8cd88a"/></g>
<g transform="rotate(0 751.2 1979.5)"><rect x="736.7" y="1972.0" width="29" height="15" fill="#3cae3e"/><rect x="738.7" y="1974.0" width="25" height="11" fill="none" stroke="#7fd07a" stroke-width="1"/><circle cx="751.2" cy="1979.5" r="4.7" fill="#8cd88a"/></g>
<g transform="rotate(35 737.5 2012)"><rect x="721.5" y="2004.0" width="32" height="16" fill="#3cae3e"/><rect x="723.5" y="2006.0" width="28" height="12" fill="none" stroke="#7fd07a" stroke-width="1"/><circle cx="737.5" cy="2012" r="5.0" fill="#8cd88a"/></g>
<circle cx="657.3" cy="2024" r="8" fill="#dfaa3a"/><circle cx="657.3" cy="2024" r="5.2" fill="none" stroke="#c38b22" stroke-width="0.8"/>
<circle cx="641.3" cy="2033.3" r="6" fill="#dfaa3a"/><circle cx="641.3" cy="2033.3" r="3.9" fill="none" stroke="#c38b22" stroke-width="0.8"/>
<circle cx="644" cy="2053.3" r="7" fill="#dfaa3a"/><circle cx="644" cy="2053.3" r="4.5" fill="none" stroke="#c38b22" stroke-width="0.8"/>
<circle cx="657.3" cy="2048" r="4" fill="#dfaa3a"/><circle cx="657.3" cy="2048" r="2.6" fill="none" stroke="#c38b22" stroke-width="0.8"/>
<circle cx="677.3" cy="2057.3" r="6" fill="#dfaa3a"/><circle cx="677.3" cy="2057.3" r="3.9" fill="none" stroke="#c38b22" stroke-width="0.8"/>
<circle cx="696" cy="2045.3" r="6" fill="#dfaa3a"/><circle cx="696" cy="2045.3" r="3.9" fill="none" stroke="#c38b22" stroke-width="0.8"/>
<circle cx="650.7" cy="2085.3" r="6" fill="#dfaa3a"/><circle cx="650.7" cy="2085.3" r="3.9" fill="none" stroke="#c38b22" stroke-width="0.8"/>
<circle cx="678.7" cy="2089.3" r="10" fill="#dfaa3a"/><circle cx="678.7" cy="2089.3" r="6.5" fill="none" stroke="#c38b22" stroke-width="0.8"/>
<circle cx="636" cy="2000" r="3" fill="#dfaa3a"/><circle cx="636" cy="2000" r="2.0" fill="none" stroke="#c38b22" stroke-width="0.8"/>
<circle cx="645.3" cy="2008" r="3" fill="#dfaa3a"/><circle cx="645.3" cy="2008" r="2.0" fill="none" stroke="#c38b22" stroke-width="0.8"/>
<circle cx="633.3" cy="2012" r="3" fill="#dfaa3a"/><circle cx="633.3" cy="2012" r="2.0" fill="none" stroke="#c38b22" stroke-width="0.8"/>
<circle cx="993.7" cy="2328" r="14.5" fill="none" stroke="#3a4fa0" stroke-width="2.5"/>
<path d="M999,2322 Q996,2318.5 993,2319 Q987,2320 987,2328 Q987,2336 993,2337 Q996.5,2337.5 999,2334" fill="none" stroke="#3a4fa0" stroke-width="2.3"/>
<polygon points="1024,2312.5 1050,2312.5 1050,2322 1042.5,2322 1042.5,2347.5 1031.5,2347.5 1031.5,2322 1024,2322" fill="#3a55a5"/>
<polygon points="1052,2312.5 1078,2312.5 1078,2322 1070.5,2322 1070.5,2347.5 1059.5,2347.5 1059.5,2322 1052,2322" fill="#3a55a5"/>
<polygon points="1078,2312.5 1091,2312.5 1095.25,2320.5 1099.5,2312.5 1112.5,2312.5 1102,2330 1113,2347.5 1099.5,2347.5 1095.25,2339.5 1091,2347.5 1077.5,2347.5 1088.5,2330" fill="#3a55a5"/>
<polygon points="1115.5,2312.5 1128,2312.5 1131.5,2331 1135,2312.5 1147.5,2312.5 1138,2347.5 1125,2347.5" fill="#e02a2a"/>
<polygon points="1147.5,2312.5 1158,2312.5 1167,2329 1167,2312.5 1177.5,2312.5 1177.5,2347.5 1167,2347.5 1158,2331 1158,2347.5 1147.5,2347.5" fill="#3a55a5"/>
<ellipse cx="1126" cy="2334" rx="20" ry="6" fill="none" stroke="#e02a2a" stroke-width="1.3" transform="rotate(-20 1126 2334)"/>
<circle cx="1124" cy="2334" r="8" fill="#dfe5ee"/>
<text x="1077.5" y="2357.5" font-size="11" fill="#d43a3a" font-weight="normal" font-style="normal" text-anchor="start" textLength="100.0" lengthAdjust="spacingAndGlyphs"  stroke="#d43a3a" stroke-width="0.3">Vietnam News Agency</text>
<rect x="914" y="243" width="32" height="45" fill="#efeef0"/>
<rect x="919" y="252" width="22" height="1" fill="#f5a6ae"/>
<rect x="919" y="258" width="22" height="1" fill="#f5a6ae"/>
<rect x="919" y="264" width="22" height="1" fill="#f5a6ae"/>
<rect x="919" y="270" width="22" height="1" fill="#f5a6ae"/>
<rect x="919" y="276" width="22" height="1" fill="#f5a6ae"/>
<rect x="919" y="282" width="22" height="1" fill="#f5a6ae"/>
<rect x="960.5" y="236.5" width="22" height="28.5" fill="#5a2335"/>
<rect x="964" y="244" width="15" height="1" fill="#b88a98"/>
<rect x="964" y="249" width="15" height="1" fill="#b88a98"/>
<rect x="964" y="254" width="15" height="1" fill="#b88a98"/>
<rect x="964" y="259" width="15" height="1" fill="#b88a98"/>
<circle cx="1002" cy="258.4" r="11" fill="#f38b9a"/>
<text x="1002" y="263.9" font-size="15.4" font-weight="bold" fill="#fff" text-anchor="middle">$</text>
<path d="M968,300 L985,270 L1012,275 L1030,252 L1046,256 L1032,290 L1005,300 L990,296 L978,318 Z" fill="#fbdde0"/>
<path d="M905,431 L925,304 L947,312 L983,336 L985,346 L958,372 L932,420 L912,432 Z" fill="#f9bfc6"/>
<circle cx="1078" cy="242" r="2" fill="none" stroke="#222" stroke-width="1"/><circle cx="1089" cy="238" r="2.5" fill="none" stroke="#e58bd0" stroke-width="1"/>
<circle cx="817" cy="286" r="2" fill="none" stroke="#222" stroke-width="1"/><circle cx="828" cy="283" r="2.5" fill="none" stroke="#f38b9a" stroke-width="1"/>
<g fill="#aad6de"><rect x="878.0" y="265.1" width="7.5" height="8.5" rx="1.5" transform="rotate(0.0 881.7 285.5)"/><rect x="878.0" y="265.1" width="7.5" height="8.5" rx="1.5" transform="rotate(45.0 881.7 285.5)"/><rect x="878.0" y="265.1" width="7.5" height="8.5" rx="1.5" transform="rotate(90.0 881.7 285.5)"/><rect x="878.0" y="265.1" width="7.5" height="8.5" rx="1.5" transform="rotate(135.0 881.7 285.5)"/><rect x="878.0" y="265.1" width="7.5" height="8.5" rx="1.5" transform="rotate(180.0 881.7 285.5)"/><rect x="878.0" y="265.1" width="7.5" height="8.5" rx="1.5" transform="rotate(225.0 881.7 285.5)"/><rect x="878.0" y="265.1" width="7.5" height="8.5" rx="1.5" transform="rotate(270.0 881.7 285.5)"/><rect x="878.0" y="265.1" width="7.5" height="8.5" rx="1.5" transform="rotate(315.0 881.7 285.5)"/><circle cx="881.7" cy="285.5" r="17"/></g><circle cx="881.7" cy="285.5" r="7.7" fill="#fefdfe"/>
<g fill="#aad6de"><rect x="813.3" y="399.6" width="7.5" height="8.5" rx="1.5" transform="rotate(0.0 817 420)"/><rect x="813.3" y="399.6" width="7.5" height="8.5" rx="1.5" transform="rotate(45.0 817 420)"/><rect x="813.3" y="399.6" width="7.5" height="8.5" rx="1.5" transform="rotate(90.0 817 420)"/><rect x="813.3" y="399.6" width="7.5" height="8.5" rx="1.5" transform="rotate(135.0 817 420)"/><rect x="813.3" y="399.6" width="7.5" height="8.5" rx="1.5" transform="rotate(180.0 817 420)"/><rect x="813.3" y="399.6" width="7.5" height="8.5" rx="1.5" transform="rotate(225.0 817 420)"/><rect x="813.3" y="399.6" width="7.5" height="8.5" rx="1.5" transform="rotate(270.0 817 420)"/><rect x="813.3" y="399.6" width="7.5" height="8.5" rx="1.5" transform="rotate(315.0 817 420)"/><circle cx="817" cy="420" r="17"/></g><circle cx="817" cy="420" r="7.7" fill="#fefdfe"/>
<circle cx="814.5" cy="365.6" r="11" fill="#f38b9a"/>
<text x="814.5" y="371.1" font-size="15.4" font-weight="bold" fill="#fff" text-anchor="middle">$</text>
<text x="1083" y="330" font-size="60" font-weight="bold" fill="#fbd0d3" text-anchor="middle">$</text>
<rect x="832.6" y="296" width="77.4" height="134" rx="6" fill="#e9e8ea"/>
<rect x="842.25" y="300" width="64.75" height="128.25" rx="5" fill="#532236"/>
<rect x="862" y="298" width="25" height="5" rx="2" fill="#e9e8ea"/>
<rect x="928" y="426" width="97" height="6" fill="#dcdadc"/>
<rect x="996.7" y="354" width="103.3" height="70" fill="#5a2335"/>
<rect x="930.8" y="382.4" width="20.7" height="43" fill="#0f4a55"/>
<rect x="965.7" y="342" width="21.9" height="83" fill="#0f4a55"/>
<rect x="1035.4" y="288" width="22" height="63.4" fill="#062d45"/>
<rect x="1005" y="318" width="20" height="34" fill="#0f4a55"/>
<path d="M852.2,400.8 L865,364.7 L884.8,335.5 L902.3,332 L909.3,358.8 L900,402 Z" fill="#f99aac"/>
<path d="M880,352 L893,372 L898,360 Z" fill="#f27a8c" opacity="0.7"/>
<path d="M849.8,402 L895.3,402 L893,428.25 L848.7,428.25 Z" fill="#f8f8f8"/><path d="M880,402 L895.3,402 L893,428.25 L875,428.25 Z" fill="#d6d4d6"/>
<path d="M895.3,360 L925,368 L964.2,375.2 L957.2,384.5 L925,379 L898.8,371.7 Z" fill="#f27fc0"/>
<path d="M896.5,318 L910.5,320 L911,334 L900,338 L896,330 Z" fill="#f37fa8"/>
<path d="M890.7,312 Q896,306 906,307 L918.7,310 Q920,316 914,318 L900,318 L896,328 L890.7,329.7 Z" fill="#111"/>
<rect x="1002" y="314" width="12" height="36" fill="#0a3f50"/>
<path d="M964,372 L1000,350 L1015,338 L1042,340 L1062,360 L1076,416 L1058,416 L1046,388 L1040,416 L1012,416 L1004,378 L966,382 Z" fill="#22a055"/>
<path d="M1012,340 L1030,338 L1035,395 L1018,395 Z" fill="#111"/>
<ellipse cx="1014.7" cy="322" rx="10" ry="12" fill="#f491a6"/>
<path d="M1002,312 Q1012,303 1027,308 L1024,318 L1005,318 Z" fill="#f59db0"/>
<path d="M948,374 Q958,369 968,376 L965,386 L950,384 Z" fill="#f49ab0"/>
<circle cx="936" cy="336" r="15.5" fill="#1f7b73"/><path d="M918,340 L926,334 L925,346 Z" fill="#1f7b73"/>
<g fill="#fff"><rect x="934.7" y="328.8" width="2.6" height="3.0" rx="1.5" transform="rotate(0.0 936 336)"/><rect x="934.7" y="328.8" width="2.6" height="3.0" rx="1.5" transform="rotate(45.0 936 336)"/><rect x="934.7" y="328.8" width="2.6" height="3.0" rx="1.5" transform="rotate(90.0 936 336)"/><rect x="934.7" y="328.8" width="2.6" height="3.0" rx="1.5" transform="rotate(135.0 936 336)"/><rect x="934.7" y="328.8" width="2.6" height="3.0" rx="1.5" transform="rotate(180.0 936 336)"/><rect x="934.7" y="328.8" width="2.6" height="3.0" rx="1.5" transform="rotate(225.0 936 336)"/><rect x="934.7" y="328.8" width="2.6" height="3.0" rx="1.5" transform="rotate(270.0 936 336)"/><rect x="934.7" y="328.8" width="2.6" height="3.0" rx="1.5" transform="rotate(315.0 936 336)"/><circle cx="936" cy="336" r="6"/></g><circle cx="936" cy="336" r="2.7" fill="#fefdfe"/>
<circle cx="936" cy="336" r="2.5" fill="#1f7b73"/>
<path d="M952.7,298.5 L991.5,298.5 L991.5,322 L996,327 L988,325 L952.7,325 Z" fill="#1f7b73"/>
<text x="972" y="320" font-size="20" font-weight="bold" fill="#f5a48f" text-anchor="middle">$</text>
<ellipse cx="1060" cy="440" rx="40" ry="6" fill="#5a2335" opacity="0.9"/>
<circle cx="1043" cy="422.5" r="18" fill="#f39aa6"/><circle cx="1043" cy="422.5" r="12" fill="none" stroke="#f6b8c0" stroke-width="2"/>
<rect x="1058" y="436" width="45" height="9" rx="4.5" fill="#f39aa6"/>
<rect x="1058" y="428" width="45" height="9" rx="4.5" fill="#f6aab5"/>
<rect x="1058" y="420" width="45" height="9" rx="4.5" fill="#f39aa6"/>
<rect x="1058" y="412" width="45" height="9" rx="4.5" fill="#f6aab5"/>
<defs><radialGradient id="bagg" cx="0.4" cy="0.45" r="0.6"><stop offset="0" stop-color="#f9de6a"/><stop offset="0.6" stop-color="#f0c530"/><stop offset="1" stop-color="#d9a418"/></radialGradient></defs>
<ellipse cx="1126" cy="489" rx="38" ry="4" fill="#000" opacity="0.12" filter="url(#blur2)"/>
<path d="M1092,404 L1108,384 L1140,378 L1162,396 L1152,412 L1100,412 Z" fill="#d9e3c0"/>
<g transform="rotate(-30 1106 392)"><rect x="1093.0" y="385.0" width="26" height="14" fill="#e3ead0" stroke="#8fa878" stroke-width="1"/><circle cx="1099.5" cy="392" r="3" fill="none" stroke="#6f8a5c" stroke-width="1"/></g>
<g transform="rotate(-5 1128 384)"><rect x="1116.0" y="377.5" width="24" height="13" fill="#e3ead0" stroke="#8fa878" stroke-width="1"/><circle cx="1122.0" cy="384" r="3" fill="none" stroke="#6f8a5c" stroke-width="1"/></g>
<g transform="rotate(28 1148 392)"><rect x="1136.0" y="385.0" width="24" height="14" fill="#e3ead0" stroke="#8fa878" stroke-width="1"/><circle cx="1142.0" cy="392" r="3" fill="none" stroke="#6f8a5c" stroke-width="1"/></g>
<g transform="rotate(-55 1096 408)"><rect x="1086.0" y="401.5" width="20" height="13" fill="#e3ead0" stroke="#8fa878" stroke-width="1"/><circle cx="1091.0" cy="408" r="3" fill="none" stroke="#6f8a5c" stroke-width="1"/></g>
<g transform="rotate(55 1158 402)"><rect x="1150.0" y="396.0" width="16" height="12" fill="#e3ead0" stroke="#8fa878" stroke-width="1"/><circle cx="1154.0" cy="402" r="3" fill="none" stroke="#6f8a5c" stroke-width="1"/></g>
<path d="M1100,398 Q1112,412 1126,404 Q1141,412 1157,400 L1148,423 L1104,423 Z" fill="#f2cb3c"/>
<path d="M1106,421 Q1084,440 1085,462 Q1087,488 1126,488 Q1166,488 1166,460 Q1165,438 1146,421 Z" fill="url(#bagg)"/>
<path d="M1104,423 Q1126,418 1148,423" fill="none" stroke="#c89a2a" stroke-width="1.5"/>
<text x="1105" y="476" font-size="62" font-weight="bold" fill="#1a1a1a" textLength="42" lengthAdjust="spacingAndGlyphs">$</text>
<path d="M1146,425 Q1160,440 1162,465 Q1176,478 1174,486 Q1150,491 1098,489" fill="none" stroke="#c8a860" stroke-width="1.2"/>
<g transform="translate(0,0)"><path d="M701.7,543.4 Q703,539 708,538.5 L720.3,538.2 L720.9,545.2 L730.8,548.7 L738.4,559.8 L743.7,563.8 Q744.5,567.5 740.2,566.8 L734.3,565 L740.8,585.4 Q739.5,589 736.7,587.8 L729.7,570.8 L720.3,570.8 L708.7,569.7 L704.6,559.2 Z" fill="#6cb63f" stroke="#5b8f38" stroke-width="1"/><ellipse cx="720" cy="556" rx="8" ry="7" fill="#8bcf63" opacity="0.6"/></g>
<g transform="translate(422,12)"><path d="M701.7,543.4 Q703,539 708,538.5 L720.3,538.2 L720.9,545.2 L730.8,548.7 L738.4,559.8 L743.7,563.8 Q744.5,567.5 740.2,566.8 L734.3,565 L740.8,585.4 Q739.5,589 736.7,587.8 L729.7,570.8 L720.3,570.8 L708.7,569.7 L704.6,559.2 Z" fill="#6cb63f" stroke="#5b8f38" stroke-width="1"/><ellipse cx="720" cy="556" rx="8" ry="7" fill="#8bcf63" opacity="0.6"/></g>
</svg></body></html>
